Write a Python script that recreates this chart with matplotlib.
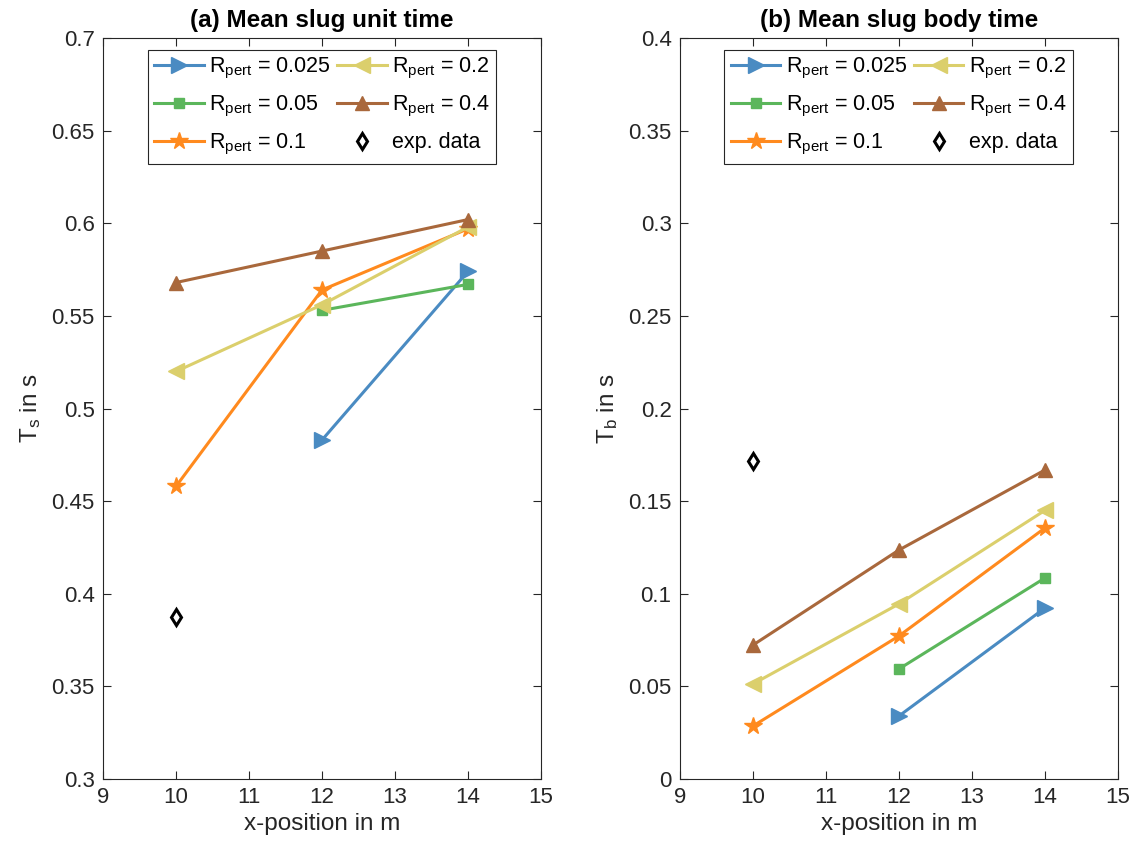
import matplotlib
matplotlib.use("Agg")
import matplotlib.pyplot as plt

plt.rcParams["font.family"] = ["Liberation Sans", "DejaVu Sans"]
plt.rcParams["mathtext.default"] = "regular"

x_pos = [10, 12, 14]
r_pert = ["0.025", "0.05", "0.1", "0.2", "0.4"]

# mean slug unit time T_s (None where no slugs reached that position)
ts_025 = [None, 0.483, 0.574]
ts_05 = [None, 0.553, 0.567]
ts_1 = [0.458, 0.564, 0.597]
ts_2 = [0.520, 0.556, 0.598]
ts_4 = [0.568, 0.585, 0.602]
ts_exp = 0.3875

# mean slug body time T_b
tb_025 = [None, 0.034, 0.0923]
tb_05 = [None, 0.0594, 0.1085]
tb_1 = [0.0286, 0.0772, 0.1355]
tb_2 = [0.0513, 0.0945, 0.145]
tb_4 = [0.0723, 0.1236, 0.1668]
tb_exp = 0.1717
exp_x = 10

colors = ["#4A8BC2", "#5BB65B", "#FF8A1E", "#DBCF6C", "#A9683C"]
markers = [">", "s", "*", "<", "^"]
msizes = [11, 7, 13, 11, 10]

fig = plt.figure(figsize=(11.37, 8.5), dpi=100)
ax_a = fig.add_axes([0.0906, 0.0835, 0.3852, 0.8718])
ax_b = fig.add_axes([0.598, 0.0835, 0.3852, 0.8718])


def draw_panel(ax, series, exp_val, title, ylabel, ylim, yticks):
    for vals, r, c, m, ms in zip(series, r_pert, colors, markers, msizes):
        xs = [x for x, v in zip(x_pos, vals) if v is not None]
        ys = [v for v in vals if v is not None]
        ax.plot(xs, ys, color=c, lw=2.2, marker=m, ms=ms, mec=c, mfc=c,
                label=r"R$_{pert}$ = " + r)
    ax.plot([exp_x], [exp_val], ls="none", marker="d", ms=8, mfc="white",
            mec="black", mew=2.2, label="exp. data")

    ax.set_xlim(9, 15)
    ax.set_ylim(*ylim)
    ax.set_xticks(range(9, 16))
    ax.set_yticks(yticks)
    ax.set_yticklabels([f"{t:g}" for t in yticks])
    ax.tick_params(direction="in", top=True, right=True, length=6,
                   labelsize=16, colors="#262626", pad=6)
    for s in ax.spines.values():
        s.set_color("#262626")
        s.set_linewidth(0.8)
    ax.set_xlabel("x-position in m", fontsize=17.5, color="#262626", labelpad=3)
    ax.set_ylabel(ylabel, fontsize=17.5, color="#262626", labelpad=6)
    ax.set_title(title, fontsize=17.5, fontweight="bold", pad=8)
    leg = ax.legend(ncol=2, loc="upper center", bbox_to_anchor=(0.5, 0.99),
                    fontsize=15.5, handlelength=2.3, columnspacing=0.3,
                    handletextpad=0.25, labelspacing=0.6, borderpad=0.3,
                    borderaxespad=0.2, fancybox=False, edgecolor="#262626",
                    framealpha=1)
    leg.get_frame().set_linewidth(0.8)


draw_panel(ax_a, [ts_025, ts_05, ts_1, ts_2, ts_4], ts_exp,
           "(a) Mean slug unit time", "T$_s$ in s", (0.3, 0.7),
           [0.3, 0.35, 0.4, 0.45, 0.5, 0.55, 0.6, 0.65, 0.7])
draw_panel(ax_b, [tb_025, tb_05, tb_1, tb_2, tb_4], tb_exp,
           "(b) Mean slug body time", "T$_b$ in s", (0, 0.4),
           [0, 0.05, 0.1, 0.15, 0.2, 0.25, 0.3, 0.35, 0.4])

fig.savefig("out.png", dpi=100)
